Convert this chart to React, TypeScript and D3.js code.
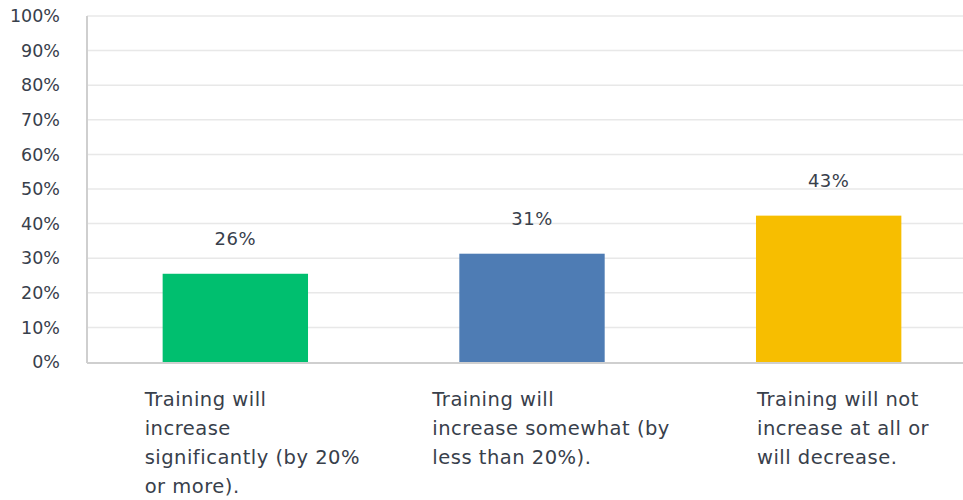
import { useEffect, useRef } from 'react';
import * as d3 from 'd3';

const categories = ['sig', 'some', 'none'];
const categoryLines = [
  ['Training will', 'increase', 'significantly (by 20%', 'or more).'],
  ['Training will', 'increase somewhat (by', 'less than 20%).'],
  ['Training will not', 'increase at all or', 'will decrease.'],
];
const values = [25.5, 31.3, 42.3];
const valueLabels = ['26%', '31%', '43%'];
const colors = ['#00BF6F', '#4E7CB4', '#F7BE00'];
const yTicks = [0, 10, 20, 30, 40, 50, 60, 70, 80, 90, 100];

const Chart = () => {
  const ref = useRef<SVGSVGElement | null>(null);

  useEffect(() => {
    if (!ref.current) return;
    const svg = d3.select(ref.current);
    svg.selectAll('*').remove();
    const width = 963;
    const height = 500;
    const margin = { top: 16, right: -14, bottom: 138, left: 87 };
    const font = '"DejaVu Sans", sans-serif';
    const textColor = '#38404b';

    const x = d3
      .scaleBand()
      .domain(categories)
      .range([margin.left, width - margin.right])
      .paddingInner(0.51)
      .paddingOuter(0.255);

    const y = d3
      .scaleLinear()
      .domain([0, 100])
      .range([height - margin.bottom, margin.top]);

    // gridlines
    svg
      .append('g')
      .selectAll('line')
      .data(yTicks.filter((t) => t > 0))
      .join('line')
      .attr('x1', margin.left)
      .attr('x2', width)
      .attr('y1', (d) => y(d))
      .attr('y2', (d) => y(d))
      .attr('stroke', '#e8e8e8')
      .attr('stroke-width', 1.5);

    // tick labels
    svg
      .append('g')
      .selectAll('text')
      .data(yTicks)
      .join('text')
      .attr('x', 60)
      .attr('y', (d) => y(d))
      .attr('dy', '0.35em')
      .attr('text-anchor', 'end')
      .attr('font-family', font)
      .attr('font-size', 17.5)
      .attr('fill', textColor)
      .text((d) => `${d}%`);

    // bars
    svg
      .append('g')
      .selectAll('rect')
      .data(values)
      .join('rect')
      .attr('x', (_, i) => x(categories[i])!)
      .attr('y', (d) => y(d))
      .attr('width', x.bandwidth())
      .attr('height', (d) => y(0) - y(d))
      .attr('fill', (_, i) => colors[i]);

    // axis lines
    svg
      .append('line')
      .attr('x1', margin.left)
      .attr('x2', margin.left)
      .attr('y1', y(100))
      .attr('y2', y(0) + 1)
      .attr('stroke', '#cfcfcf')
      .attr('stroke-width', 2);
    svg
      .append('line')
      .attr('x1', margin.left)
      .attr('x2', width)
      .attr('y1', y(0) + 1)
      .attr('y2', y(0) + 1)
      .attr('stroke', '#cfcfcf')
      .attr('stroke-width', 2);

    // value labels
    svg
      .append('g')
      .selectAll('text')
      .data(values)
      .join('text')
      .attr('x', (_, i) => x(categories[i])! + x.bandwidth() / 2)
      .attr('y', (d) => y(d) - 35)
      .attr('dy', '0.35em')
      .attr('text-anchor', 'middle')
      .attr('font-family', font)
      .attr('font-size', 18)
      .attr('letter-spacing', 0.5)
      .attr('fill', textColor)
      .text((_, i) => valueLabels[i]);

    // category labels
    const labelShift = [-18, -27, 1];
    categoryLines.forEach((lines, i) => {
      const t = svg
        .append('text')
        .attr('font-family', font)
        .attr('font-size', 19.5)
        .attr('letter-spacing', 0.5)
        .attr('fill', textColor);
      lines.forEach((line, j) => {
        t.append('tspan')
          .attr('x', x(categories[i])! + labelShift[i])
          .attr('y', y(0) + 44 + j * 29)
          .text(line);
      });
    });
  }, []);

  return <svg ref={ref} width={963} height={500} style={{ display: 'block' }} />;
};

export default function App() {
  return (
    <div style={{ position: 'absolute', left: 0, top: 0 }}>
      <Chart />
    </div>
  );
}
